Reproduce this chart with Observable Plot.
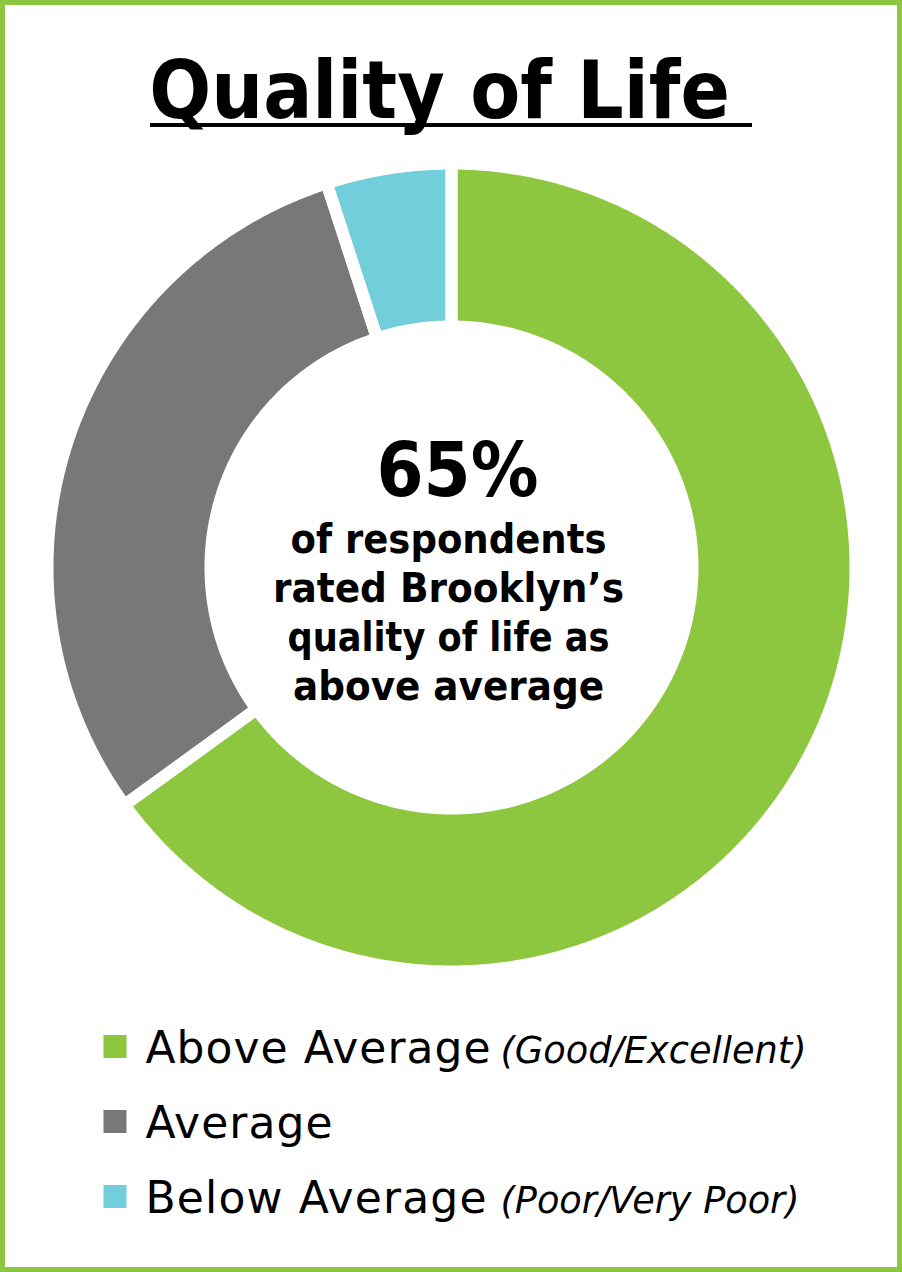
<!DOCTYPE html>
<html><head><meta charset="utf-8">
<script src="https://cdn.jsdelivr.net/npm/d3@7"></script>
<script src="https://cdn.jsdelivr.net/npm/@observablehq/plot@0.6"></script>
<style>
html,body{margin:0;padding:0;background:#fff;}
#page{position:relative;width:902px;height:1272px;overflow:hidden;background:#fff;}
#frame{position:absolute;left:0;top:0;width:902px;height:1272px;box-sizing:border-box;border:5px solid #8DC63F;pointer-events:none;}
</style></head><body>
<div id="page"><div id="frame"></div></div>
<script>
// ---- data ----
const categories = ["Above Average", "Average", "Below Average"];
const qualifiers = ["(Good/Excellent)", "", "(Poor/Very Poor)"];
const shares = [65, 30, 5];
const colors = ["#8DC63F", "#787878", "#73CEDC"];
const titleText = "Quality of Life";
const headline = "65%";
const centerLines = ["of respondents", "rated Brooklyn’s", "quality of life as", "above average"];

const rows = categories.map((c, i) => ({category: c, qualifier: qualifiers[i], share: shares[i]}));
const page = document.getElementById("page");
const BOLD = "'DejaVu Sans', 'Noto Sans', sans-serif";
const colorScale = {domain: categories, range: colors};

// ---- title (HTML) ----
const ctx = document.createElement("canvas").getContext("2d");
{
  const TF = "bold 80px 'DejaVu Sans'";
  ctx.font = TF;
  const m = ctx.measureText(titleText);
  const asc = m.fontBoundingBoxAscent || 74, desc = m.fontBoundingBoxDescent || 19;
  const inkL = -m.actualBoundingBoxLeft;
  const ink = m.actualBoundingBoxRight + m.actualBoundingBoxLeft;
  const sx = 575 / ink;
  const el = document.createElement("div");
  el.textContent = titleText;
  Object.assign(el.style, {
    position: "absolute", left: "0px", top: (118 - asc) + "px", font: TF,
    lineHeight: (asc + desc) + "px", whiteSpace: "nowrap", color: "#000",
    transformOrigin: "0 0", transform: `translateX(${152 - inkL * sx}px) scaleX(${sx})`
  });
  page.appendChild(el);
  const ul = document.createElement("div");
  Object.assign(ul.style, {position: "absolute", left: "150px", top: "123px", width: "602px", height: "4px", background: "#000"});
  page.appendChild(ul);
}

// ---- donut (Plot) ----
const R_OUT = 398, R_IN = 247, GAP = 12;
const arcs = d3.pie().sort(null).value(d => d.share)(rows);
const poly = [];
for (const a of arcs) {
  const n = Math.max(8, Math.ceil((a.endAngle - a.startAngle) / (Math.PI / 360)));
  const ro = R_OUT + GAP / 2, ri = R_IN - GAP / 2;
  for (let i = 0; i <= n; i++) {
    const t = a.startAngle + (a.endAngle - a.startAngle) * i / n;
    poly.push({category: a.data.category, x: ro * Math.sin(t), y: ro * Math.cos(t)});
  }
  for (let i = n; i >= 0; i--) {
    const t = a.startAngle + (a.endAngle - a.startAngle) * i / n;
    poly.push({category: a.data.category, x: ri * Math.sin(t), y: ri * Math.cos(t)});
  }
}
const DTOP = 147, DW = 902, DH = 840;
const donut = Plot.plot({
  width: DW, height: DH, margin: 0,
  x: {domain: [-DW / 2, DW / 2], range: [0, DW], axis: null},
  y: {domain: [-DH / 2, DH / 2], range: [DH, 0], axis: null},
  color: colorScale,
  style: {background: "transparent", overflow: "visible"},
  marks: [
    Plot.line(poly, {x: "x", y: "y", z: "category", fill: "category", stroke: "none", curve: "linear-closed"}),
    Plot.line(poly, {x: "x", y: "y", z: "category", fill: "none", stroke: "white", strokeWidth: GAP, curve: "linear-closed"}),
    Plot.text([headline], {frameAnchor: "middle", lineAnchor: "bottom", dy: -72, dx: 6, fontSize: 75, fontWeight: "bold", fontFamily: BOLD, fill: "#000"}),
    Plot.text([centerLines.join("\n")], {frameAnchor: "middle", lineAnchor: "bottom", dy: 132, dx: -3, fontSize: 40, lineHeight: 49 / 40, fontWeight: "bold", fontFamily: BOLD, fill: "#000"})
  ]
});
Object.assign(donut.style, {position: "absolute", left: "0px", top: DTOP + "px"});
page.appendChild(donut);
{
  const texts = donut.querySelectorAll('g[aria-label="text"] text');
  texts[0].setAttribute("textLength", 162);
  texts[0].setAttribute("lengthAdjust", "spacingAndGlyphs");
  const widths = [316, 351, 322, 311];
  texts[1].querySelectorAll("tspan").forEach((ts, i) => {
    ts.setAttribute("textLength", widths[i]);
    ts.setAttribute("lengthAdjust", "spacingAndGlyphs");
  });
}

// ---- legend (Plot) ----
const LTOP = 1000;
const legend = Plot.plot({
  width: 902, height: 240, margin: 0,
  y: {type: "point", domain: categories, range: [45.5, 196.5], padding: 0, axis: null},
  color: colorScale,
  style: {background: "transparent", overflow: "visible"},
  marks: [
    Plot.dot(rows, {y: "category", frameAnchor: "left", dx: 114.5, symbol: "square", r: 13, fill: "category", stroke: "none"}),
    Plot.text(rows, {y: "category", text: "category", frameAnchor: "left", textAnchor: "start", lineAnchor: "bottom", dx: 145, dy: 16, fontSize: 44, fontFamily: "'DejaVu Sans', sans-serif", fill: "#000"}),
    Plot.text(rows.filter(d => d.qualifier), {y: "category", text: "qualifier", frameAnchor: "left", textAnchor: "start", lineAnchor: "bottom", dx: 500, dy: 16, fontSize: 38, fontStyle: "italic", fontFamily: "'DejaVu Sans', sans-serif", fill: "#000"})
  ]
});
Object.assign(legend.style, {position: "absolute", left: "0px", top: LTOP + "px"});
page.appendChild(legend);
{
  const groups = legend.querySelectorAll('g[aria-label="text"]');
  const main = groups[0].querySelectorAll("text");
  const mw = [345, 187, 341];
  main.forEach((t, i) => t.setAttribute("textLength", mw[i]));
  const q = groups[1].querySelectorAll("text");
  const qw = [306, 299];
  q.forEach((t, i) => { t.setAttribute("textLength", qw[i]); t.setAttribute("lengthAdjust", "spacingAndGlyphs"); });
}
</script>
</body></html>
